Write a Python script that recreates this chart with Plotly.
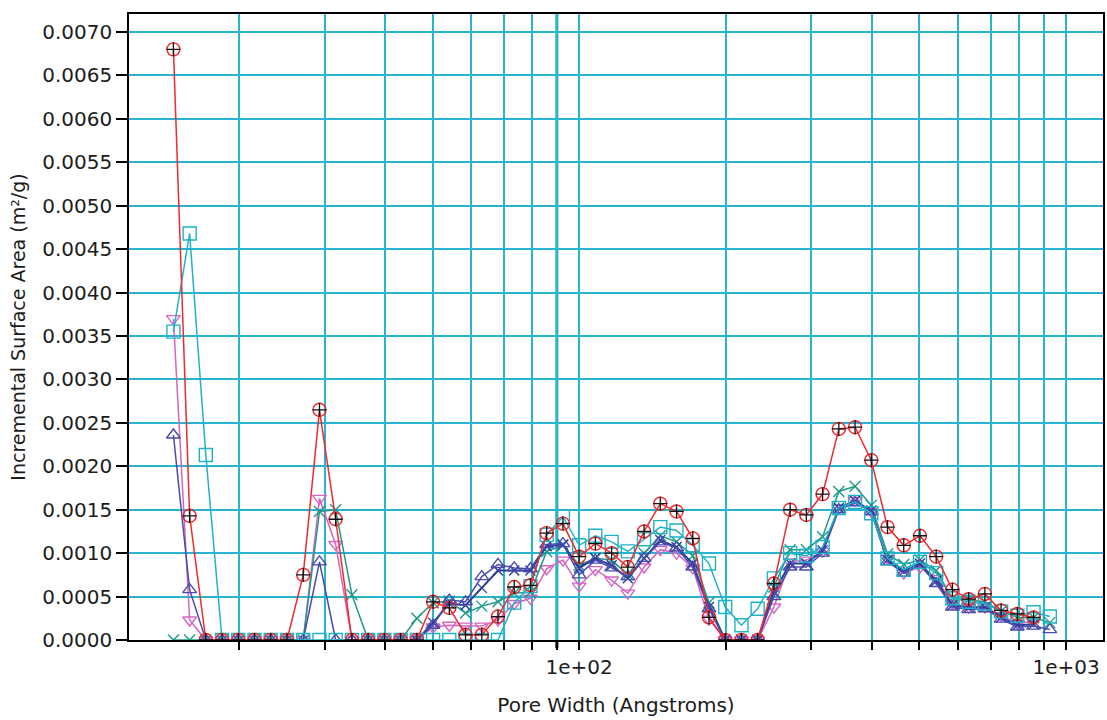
import plotly.graph_objects as go

# Pore widths (Angstroms)
pore_width = [14.68, 15.85, 17.11, 18.48, 19.95, 21.54, 23.26, 25.12, 27.12, 29.29,
              31.62, 34.15, 36.87, 39.81, 42.99, 46.42, 50.12, 54.12, 58.43, 63.10,
              68.13, 73.56, 79.43, 85.77, 92.61, 100.0, 107.98, 116.59, 125.89, 135.94,
              146.78, 158.49, 171.13, 184.78, 199.53, 215.44, 232.63, 251.19, 271.23, 292.86,
              316.23, 341.46, 368.69, 398.11, 429.87, 464.16, 501.19, 541.17, 584.34, 630.96,
              681.29, 735.64, 794.33, 857.70, 926.11]

red_circle = [0.0068, 0.00143, 0, 0, 0, 0, 0, 0, 0.00075, 0.00265,
              0.00139, 0, 0, 0, 0, 0, 0.00044, 0.00037, 0.00006, 0.00006,
              0.00027, 0.00061, 0.00063, 0.00123, 0.00134, 0.00096, 0.00111, 0.00100, 0.00084, 0.00125,
              0.00157, 0.00148, 0.00117, 0.00026, 0, 0, 0, 0.00065, 0.00150, 0.00144,
              0.00168, 0.00243, 0.00245, 0.00207, 0.00130, 0.00109, 0.00120, 0.00096, 0.00058, 0.00047,
              0.00053, 0.00034, 0.00030, 0.00026, None]

cyan_square = [0.00355, 0.00468, 0.00213, 0, 0, 0, 0, 0, 0, 0,
               0, 0, 0, 0, 0, 0, 0, 0, 0, 0,
               0, 0.00043, 0.00062, 0.00121, 0.00142, 0.00109, 0.00120, 0.00113, 0.00102, 0.00116,
               0.00130, 0.00126, 0.00109, 0.00088, 0.00038, 0.00017, 0.00036, 0.00071, 0.00100, 0.00097,
               0.00107, 0.00152, 0.00159, 0.00146, 0.00094, 0.00081, 0.00090, 0.00077, 0.00048, 0.00044,
               0.00042, 0.00033, 0.00028, 0.00032, 0.00027]

pink_tri_down = [0.0037, 0.00023, 0, 0, 0, 0, 0, 0, 0, 0.00163,
                 0.00110, 0, 0, 0, 0, 0, 0.00015, 0.00017, 0.00016, 0.00016,
                 0.00023, 0.00042, 0.00048, 0.00082, 0.00092, 0.00062, 0.00081, 0.00069, 0.00054, 0.00084,
                 0.00104, 0.00100, 0.00083, 0.00024, 0, 0, 0, 0.00038, 0.00090, 0.00092,
                 0.00102, 0.00152, 0.00161, 0.00148, 0.00094, 0.00077, 0.00084, 0.00071, 0.00042, 0.00038,
                 0.00038, 0.00028, 0.00019, 0.00022, None]

blue_tri_up = [0.00236, 0.00058, 0, 0, 0, 0, 0, 0, 0, 0.00090,
               0, 0, 0, 0, 0, 0, 0.00017, 0.00046, 0.00044, 0.00073,
               0.00087, 0.00083, 0.00082, 0.00110, 0.00111, 0.00075, 0.00092, 0.00083, 0.00073, 0.00094,
               0.00113, 0.00106, 0.00084, 0.00036, 0, 0, 0, 0.00050, 0.00084, 0.00084,
               0.00100, 0.00150, 0.00158, 0.00148, 0.00090, 0.00077, 0.00086, 0.00065, 0.00038, 0.00035,
               0.00036, 0.00024, 0.00015, 0.00016, 0.00012]

teal_x = [0, 0, 0, 0, 0, 0, 0, 0, 0, 0.00148,
          0.00150, 0.00052, 0, 0, 0, 0.00025, 0.00043, 0.00045, 0.00031, 0.00039,
          0.00044, 0.00054, 0.00055, 0.00102, 0.00109, 0.00086, 0.00094, 0.00092, 0.00075, 0.00100,
          0.00120, 0.00113, 0.00097, 0.00043, 0, 0, 0, 0.00061, 0.00104, 0.00104,
          0.00119, 0.00171, 0.00177, 0.00155, 0.00099, 0.00087, 0.00092, 0.00080, 0.00048, 0.00046,
          0.00044, 0.00033, 0.00026, 0.00026, 0.00020]

navy_x = [None, None, None, None, None, None, None, None, None, None,
          None, None, None, None, None, 0, 0.00020, 0.00042, 0.00040, 0.00060,
          0.00080, 0.00080, 0.00080, 0.00108, 0.00110, 0.00083, 0.00094, 0.00086, 0.00071, 0.00094,
          0.00115, 0.00107, 0.00088, 0.00038, 0, 0, 0, 0.00055, 0.00088, 0.00088,
          0.00103, 0.00152, 0.00160, 0.00149, 0.00092, 0.00079, 0.00088, 0.00068, 0.00040, 0.00037,
          0.00038, 0.00026, 0.00017, 0.00018, None]

x_tick_vals = [20, 30, 40, 50, 60, 70, 80, 90, 100, 200, 300, 400, 500, 600, 700, 800, 900, 1000]
x_tick_text = ["", "", "", "", "", "", "", "", "1e+02", "", "", "", "", "", "", "", "", "1e+03"]
y_tick_vals = [0.0, 0.0005, 0.0010, 0.0015, 0.0020, 0.0025, 0.0030, 0.0035,
               0.0040, 0.0045, 0.0050, 0.0055, 0.0060, 0.0065, 0.0070]

GRID = "#27b4cf"
FONT = "DejaVu Sans, Liberation Sans, Arial, sans-serif"

fig = go.Figure()


def add_series(y, color, symbol, size, lw=1.5):
    fig.add_trace(go.Scatter(
        x=pore_width, y=y, mode="lines+markers",
        line=dict(color=color, width=lw),
        marker=dict(symbol=symbol, size=size, color=color,
                    line=dict(color=color, width=1.4)),
        connectgaps=False, hoverinfo="x+y"))


add_series(pink_tri_down, "#d565c2", "triangle-down-open", 12)
add_series(teal_x, "#1f9a88", "x-thin-open", 11)
add_series(navy_x, "#2b3f92", "x-thin-open", 10, lw=2)
add_series(blue_tri_up, "#4a4ab0", "triangle-up-open", 12)
add_series(cyan_square, "#1fb3c8", "square-open", 13)
add_series(red_circle, "#ee2a2e", "circle-open", 13)
fig.add_trace(go.Scatter(
    x=pore_width, y=red_circle, mode="markers",
    marker=dict(symbol="cross-thin-open", size=10, color="#111111",
                line=dict(color="#111111", width=1.3)),
    hoverinfo="skip"))

# emphasised 90 A grid line and tick
fig.add_shape(type="line", xref="x", yref="paper", x0=90, x1=90, y0=0, y1=1,
              line=dict(color="#1aa6c2", width=3), layer="below")
fig.add_shape(type="line", xref="x", yref="paper", x0=90, x1=90, y0=-0.013, y1=0,
              line=dict(color="black", width=3))

fig.update_layout(
    width=1107, height=720,
    margin=dict(l=129, r=2, t=14, b=80),
    paper_bgcolor="white", plot_bgcolor="white",
    showlegend=False,
    font=dict(family=FONT, size=20, color="#1c1c1c"),
    xaxis=dict(
        type="log", range=[1.0755, 3.0759],
        tickvals=x_tick_vals, ticktext=x_tick_text,
        showgrid=True, gridcolor=GRID, gridwidth=2,
        ticks="outside", ticklen=8, tickwidth=1.5, tickcolor="black",
        showline=True, linecolor="black", linewidth=1.5, mirror=True,
        zeroline=False,
        title=dict(text="Pore Width (Angstroms)", standoff=20,
                   font=dict(family=FONT, size=20)),
    ),
    yaxis=dict(
        range=[0, 0.007207],
        tickvals=y_tick_vals, tickformat=".4f",
        showgrid=True, gridcolor=GRID, gridwidth=2,
        ticks="outside", ticklen=11, tickwidth=1.5, tickcolor="black",
        showline=True, linecolor="black", linewidth=1.5, mirror=True,
        zeroline=False,
        title=dict(text="Incremental Surface Area (m²/g)", standoff=12,
                   font=dict(family=FONT, size=19)),
    ),
)

fig.write_html("out.html")
